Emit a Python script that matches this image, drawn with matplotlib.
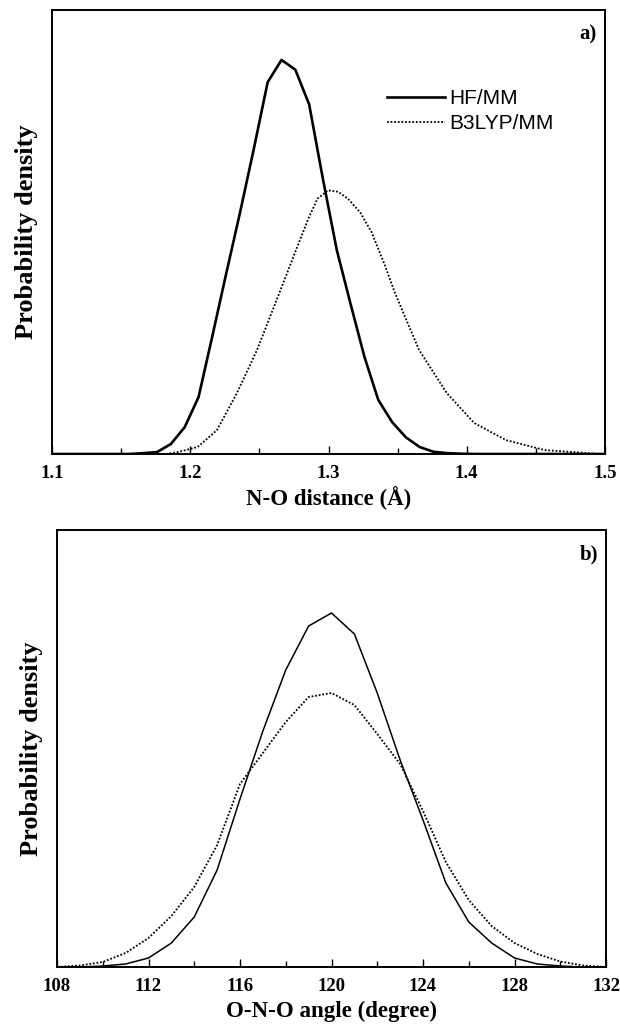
import matplotlib
matplotlib.use("Agg")
import matplotlib.pyplot as plt
from matplotlib.ticker import MultipleLocator, FormatStrFormatter

# ---- data ----
# panel a: N-O distance
no_hf_x = [1.10, 1.156, 1.166, 1.176, 1.186, 1.196, 1.206, 1.216, 1.226, 1.236, 1.246,
           1.256, 1.266, 1.276, 1.286, 1.296, 1.306, 1.316, 1.326, 1.336, 1.346,
           1.356, 1.366, 1.376, 1.386, 1.396, 1.406, 1.50]
no_hf_y = [0.0, 0.0, 0.03, 0.07, 0.36, 0.97, 2.05, 4.25, 6.5, 8.7, 11.0,
           13.4, 14.2, 13.85, 12.6, 9.9, 7.35, 5.4, 3.5, 1.95, 1.15,
           0.6, 0.25, 0.08, 0.03, 0.01, 0.0, 0.0]
no_b3_x = [1.1825, 1.1911, 1.2053, 1.2193, 1.2338, 1.2483, 1.2625, 1.2765, 1.2852,
           1.2920, 1.2996, 1.3070, 1.3141, 1.3230, 1.3311, 1.3400, 1.3481, 1.3655,
           1.3855, 1.4053, 1.4284, 1.4566, 1.4855, 1.495]
no_b3_y = [0.0, 0.07, 0.25, 0.86, 2.2, 3.75, 5.55, 7.35, 8.45,
           9.2, 9.5, 9.45, 9.2, 8.7, 8.0, 6.9, 5.8, 3.75,
           2.2, 1.12, 0.5, 0.14, 0.04, 0.0]

# panel b: O-N-O angle (1-degree bins)
ang_x = [108, 109, 110, 111, 112, 113, 114, 115, 116, 117, 118, 119, 120,
         121, 122, 123, 124, 125, 126, 127, 128, 129, 130, 131, 132]
ang_hf_raw = [0, 0, 1, 3, 9, 24, 50, 97, 168, 236, 297, 341, 354,
              333, 274, 207, 147, 84, 45, 24, 9, 3, 1, 0, 0]
ang_b3_raw = [0, 1.5, 5, 14, 29, 51, 80, 122, 183, 214, 245, 270, 274,
              262, 233, 203, 156, 105, 67, 41, 24, 13, 5.5, 1.5, 0]
ang_norm = 2707.0
ang_hf_y = [v / ang_norm for v in ang_hf_raw]
ang_b3_y = [v / ang_norm for v in ang_b3_raw]

labels = ["HF/MM", "B3LYP/MM"]

# ---- figure ----
W, H = 620, 1027
DPI = 100
fig = plt.figure(figsize=(W / DPI, H / DPI), dpi=DPI)
fig.patch.set_facecolor("white")

serif = ["Liberation Serif", "DejaVu Serif"]
sans = ["Liberation Sans", "DejaVu Sans"]


def px_axes(l, t, r, b):
    return fig.add_axes([l / W, 1 - b / H, (r - l) / W, (b - t) / H])


ax1 = px_axes(52, 10, 605, 454)
ax2 = px_axes(57, 530, 606, 967)

for ax in (ax1, ax2):
    for s in ax.spines.values():
        s.set_linewidth(1.4)
    ax.set_yticks([])
    ax.tick_params(axis="x", which="both", direction="in", top=False, width=1.0,
                   pad=8)
    ax.tick_params(axis="x", which="major", length=6)
    ax.tick_params(axis="x", which="minor", length=4)

# panel a
l1, = ax1.plot(no_hf_x, no_hf_y, color="black", lw=1.9, ls="-")
l2, = ax1.plot(no_b3_x, no_b3_y, color="black", lw=1.3, ls=(0, (1, 1)))
ax1.set_xlim(1.1, 1.5)
ax1.set_ylim(0, 16)
ax1.xaxis.set_major_locator(MultipleLocator(0.1))
ax1.xaxis.set_minor_locator(MultipleLocator(0.05))
ax1.xaxis.set_major_formatter(FormatStrFormatter("%.1f"))
ax1.set_xlabel("N-O distance (Å)", fontfamily=serif, fontweight="bold",
               fontsize=16.5, labelpad=3)
ax1.set_ylabel("Probability density", fontfamily=serif, fontweight="bold",
               fontsize=19, labelpad=10)
ax1.text(0.985, 0.945, "a)", transform=ax1.transAxes, ha="right", va="center",
         fontfamily=serif, fontweight="bold", fontsize=15)
leg = ax1.legend([l1, l2], labels, loc="upper left", bbox_to_anchor=(0.605, 0.822),
                 frameon=False, borderaxespad=0, borderpad=0, handlelength=2.8,
                 handletextpad=0.2, labelspacing=0.3,
                 prop={"family": sans, "size": 15})

# panel b
ax2.plot(ang_x, ang_hf_y, color="black", lw=1.1, ls="-")
ax2.plot(ang_x, ang_b3_y, color="black", lw=1.3, ls=(0, (1, 1)))
ax2.set_xlim(108, 132)
ax2.set_ylim(0, 437 / ang_norm)
ax2.xaxis.set_major_locator(MultipleLocator(4))
ax2.xaxis.set_minor_locator(MultipleLocator(2))
ax2.set_xlabel("O-N-O angle (degree)", fontfamily=serif, fontweight="bold",
               fontsize=16.5, labelpad=4)
ax2.set_ylabel("Probability density", fontfamily=serif, fontweight="bold",
               fontsize=19, labelpad=10)
ax2.text(0.985, 0.945, "b)", transform=ax2.transAxes, ha="right", va="center",
         fontfamily=serif, fontweight="bold", fontsize=15)

for ax in (ax1, ax2):
    for lab in ax.get_xticklabels():
        lab.set_fontfamily(serif)
        lab.set_fontweight("bold")
        lab.set_fontsize(13.5)

fig.savefig("out.png", dpi=DPI, facecolor="white")
